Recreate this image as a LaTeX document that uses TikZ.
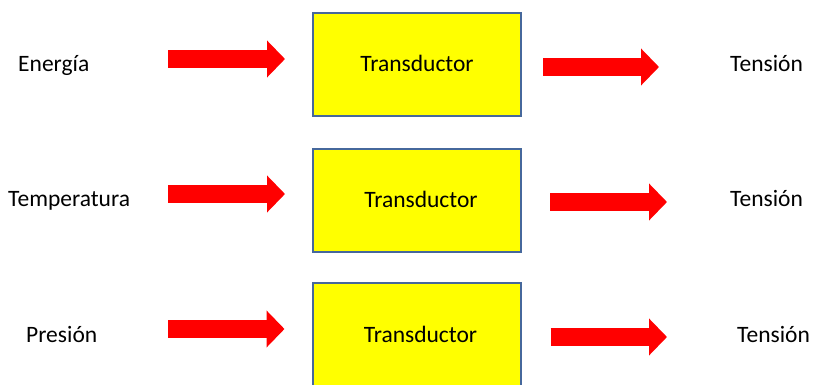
\documentclass[tikz,border=0pt]{standalone}
\usepackage{fontspec}
\setmainfont{Carlito}
\usepackage{tikz}
\usetikzlibrary{arrows.meta, positioning, calc}

\definecolor{boxline}{RGB}{70,104,156}
\definecolor{boxfill}{RGB}{255,255,0}
\definecolor{flowred}{RGB}{255,0,0}

\begin{document}
\begin{tikzpicture}[
    x=1pt, y=-1pt,
    sidetext/.style={font=\fontsize{23.5}{28}\selectfont, anchor=base west, inner sep=0pt},
    transbox/.style={rectangle, draw=boxline, line width=2pt, fill=boxfill, minimum width=208pt, minimum height=103pt, text height=16pt, text depth=2pt, font=\fontsize{23.5}{28}\selectfont},
    flow/.style={flowred, line width=18pt, -{Triangle[length=18pt, width=36pt]}}
]
    \useasboundingbox (0,0) rectangle (815,385);

    % --- Transducer Boxes ---
    \node[transbox] (t1) at (417,65) {Transductor};
    \node[transbox] (t2) at (417,200.5) {\hspace{8pt}Transductor};
    \node[transbox] (t3) at (416.5,335) {\hspace{8pt}Transductor};

    % --- Inputs ---
    \node[sidetext] (in1) at (18,72) {Energía};
    \node[sidetext] (in2) at (8,207) {Temperatura};
    \node[sidetext] (in3) at (26,342) {Presión};

    % --- Outputs ---
    \node[sidetext] (out1) at (730,72) {Tensión};
    \node[sidetext] (out2) at (730,207) {Tensión};
    \node[sidetext] (out3) at (737,342) {Tensión};

    % --- Arrow Ends ---
    \coordinate (a1) at (168,59);
    \coordinate (a2) at (168,194);
    \coordinate (a3) at (168,329);
    \coordinate (b1) at (659,67);
    \coordinate (b2) at (667,202);
    \coordinate (b3) at (667,337);

    % --- Flow Arrows ---
    % Input -> Transducer
    \draw[flow, shorten >=27pt] (a1) -- (a1 -| t1.west);
    \draw[flow, shorten >=27pt] (a2) -- (a2 -| t2.west);
    \draw[flow, shorten >=27pt] (a3) -- (a3 -| t3.west);

    % Transducer -> Output
    \draw[flow, shorten <=21pt] (b1 -| t1.east) -- (b1);
    \draw[flow, shorten <=28pt] (b2 -| t2.east) -- (b2);
    \draw[flow, shorten <=29pt] (b3 -| t3.east) -- (b3);

\end{tikzpicture}
\end{document}
